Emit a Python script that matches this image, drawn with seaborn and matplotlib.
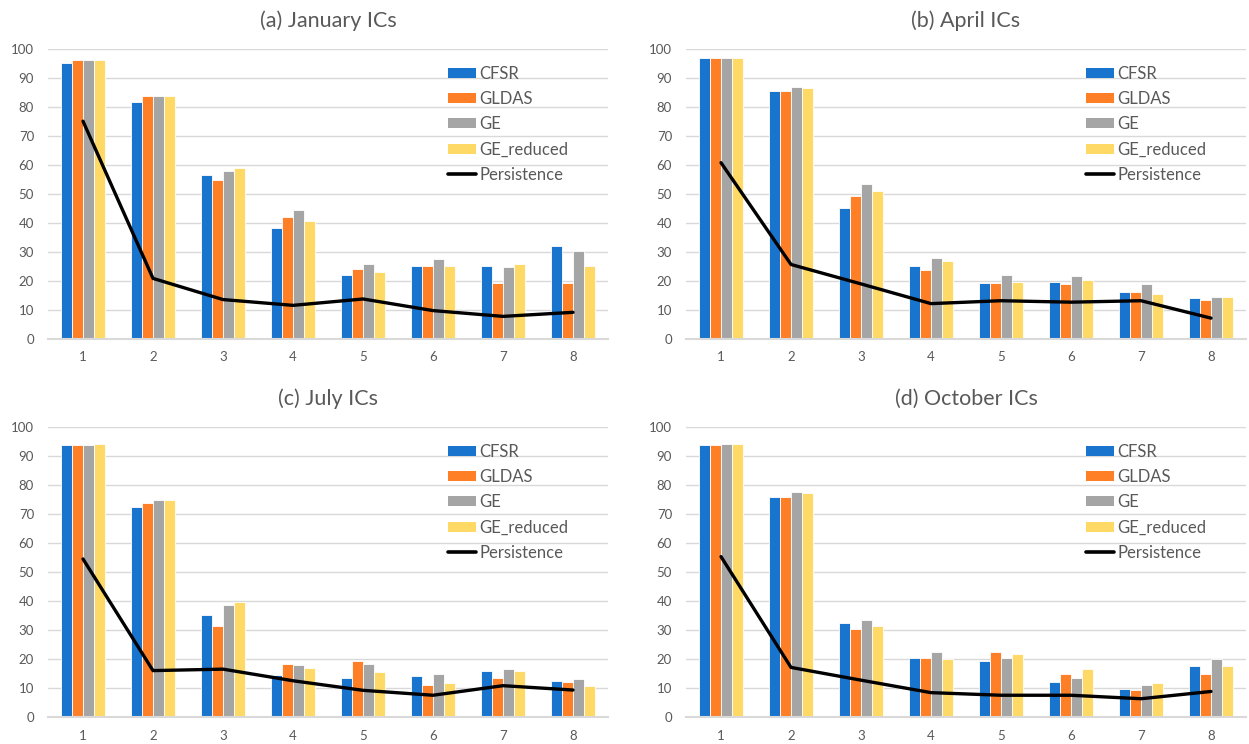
import numpy as np
import pandas as pd
import seaborn as sns
import matplotlib.pyplot as plt
from matplotlib.patches import Patch
from matplotlib.lines import Line2D

leads = [1, 2, 3, 4, 5, 6, 7, 8]
products = ["CFSR", "GLDAS", "GE", "GE_reduced"]
titles = ["(a) January ICs", "(b) April ICs", "(c) July ICs", "(d) October ICs"]

jan_cfsr = [95.3, 81.7, 56.6, 38.3, 22.2, 25.2, 25.2, 31.9]
jan_gldas = [96.2, 83.7, 54.7, 42.1, 24.3, 25.2, 19.3, 19.3]
jan_ge = [96.2, 83.7, 58.1, 44.5, 25.7, 27.6, 24.7, 30.5]
jan_ger = [96.2, 83.7, 59.0, 40.6, 23.2, 25.2, 25.7, 25.2]
jan_pers = [75.1, 20.9, 13.6, 11.6, 13.8, 9.8, 7.8, 9.2]

apr_cfsr = [97.0, 85.5, 45.3, 25.1, 19.3, 19.8, 16.3, 14.2]
apr_gldas = [97.0, 85.5, 49.3, 23.7, 19.3, 18.9, 16.3, 13.6]
apr_ge = [97.0, 86.9, 53.5, 28.0, 22.2, 21.7, 18.8, 14.6]
apr_ger = [97.0, 86.4, 51.1, 27.0, 19.8, 20.4, 15.5, 14.6]
apr_pers = [60.8, 25.7, 19.0, 12.2, 13.2, 12.7, 13.2, 7.2]

jul_cfsr = [93.7, 72.3, 35.2, 14.5, 13.5, 14.1, 16.0, 12.5]
jul_gldas = [93.7, 73.7, 31.5, 18.4, 19.4, 11.1, 13.5, 12.1]
jul_ge = [93.7, 74.7, 38.7, 17.9, 18.4, 15.0, 16.5, 13.1]
jul_ger = [94.1, 74.7, 39.6, 17.0, 15.5, 11.6, 16.0, 10.7]
jul_pers = [54.5, 16.0, 16.5, 12.5, 9.2, 7.5, 10.8, 9.3]

oct_cfsr = [93.7, 75.8, 32.4, 20.3, 19.4, 12.1, 9.6, 17.5]
oct_gldas = [93.7, 75.8, 30.4, 20.3, 22.3, 15.0, 9.2, 15.0]
oct_ge = [94.1, 77.7, 33.3, 22.3, 20.3, 13.5, 11.1, 19.9]
oct_ger = [94.1, 77.3, 31.3, 19.9, 21.8, 16.4, 11.6, 17.5]
oct_pers = [55.3, 17.1, 12.7, 8.4, 7.5, 7.5, 6.3, 8.8]

panels = [
    (jan_cfsr, jan_gldas, jan_ge, jan_ger, jan_pers),
    (apr_cfsr, apr_gldas, apr_ge, apr_ger, apr_pers),
    (jul_cfsr, jul_gldas, jul_ge, jul_ger, jul_pers),
    (oct_cfsr, oct_gldas, oct_ge, oct_ger, oct_pers),
]

colors = {"CFSR": "#1874CD", "GLDAS": "#FF7F27", "GE": "#A5A5A5", "GE_reduced": "#FFD966"}
text_col = "#595959"

sns.set_style("white")
plt.rcParams['font.family'] = ['Lato', 'DejaVu Sans']

fig = plt.figure(figsize=(12.49, 7.44), dpi=100)
W, H = 1249, 744
# axes boxes in pixels: left, top, right, bottom
boxes = [(48, 49, 608, 339), (686, 49, 1246, 339),
         (48, 427, 608, 717), (686, 427, 1246, 717)]

for i, (vals, box) in enumerate(zip(panels, boxes)):
    l, t, r, b = box
    ax = fig.add_axes([l / W, 1 - b / H, (r - l) / W, (b - t) / H])

    # long table for the bars
    rows = []
    for name, series in zip(products, vals[:4]):
        for lead, v in zip(leads, series):
            rows.append({"lead": lead, "product": name, "value": v})
    df = pd.DataFrame(rows)

    sns.barplot(data=df, x="lead", y="value", hue="product", hue_order=products,
                palette=colors, saturation=1, width=0.63, gap=0.0,
                edgecolor="white", linewidth=0.6, legend=False, ax=ax, zorder=2)
    sns.pointplot(x=leads, y=vals[4], color="black", marker="", linewidth=2.4,
                  errorbar=None, ax=ax, zorder=5)

    ax.set_ylim(0, 100)
    ax.set_xlim(-0.5, 7.5)
    ax.set_yticks(np.arange(0, 101, 10))
    ax.grid(axis="y", color="#D9D9D9", linewidth=1.0, zorder=0)
    ax.set_axisbelow(True)
    for s in ["top", "right", "left"]:
        ax.spines[s].set_visible(False)
    ax.spines["bottom"].set_color("#D9D9D9")
    ax.spines["bottom"].set_linewidth(1.5)
    ax.tick_params(axis="y", length=0, pad=10, labelsize=9.5, labelcolor=text_col)
    ax.tick_params(axis="x", length=0, pad=9, labelsize=9.5, labelcolor=text_col)
    ax.set_xlabel("")
    ax.set_ylabel("")
    ax.set_title(titles[i], fontsize=15.5, color=text_col, pad=16)

    handles = [Patch(facecolor=colors[p], edgecolor="none") for p in products]
    handles.append(Line2D([0], [0], color="black", linewidth=2.6))
    ax.legend(handles, products + ["Persistence"], loc="upper left",
              bbox_to_anchor=(0.715, 0.943), frameon=False, fontsize=12,
              labelcolor=text_col, handlelength=1.65, handleheight=0.55,
              handletextpad=0.2, labelspacing=0.56, borderaxespad=0, borderpad=0)

plt.savefig("out.png", dpi=100)
